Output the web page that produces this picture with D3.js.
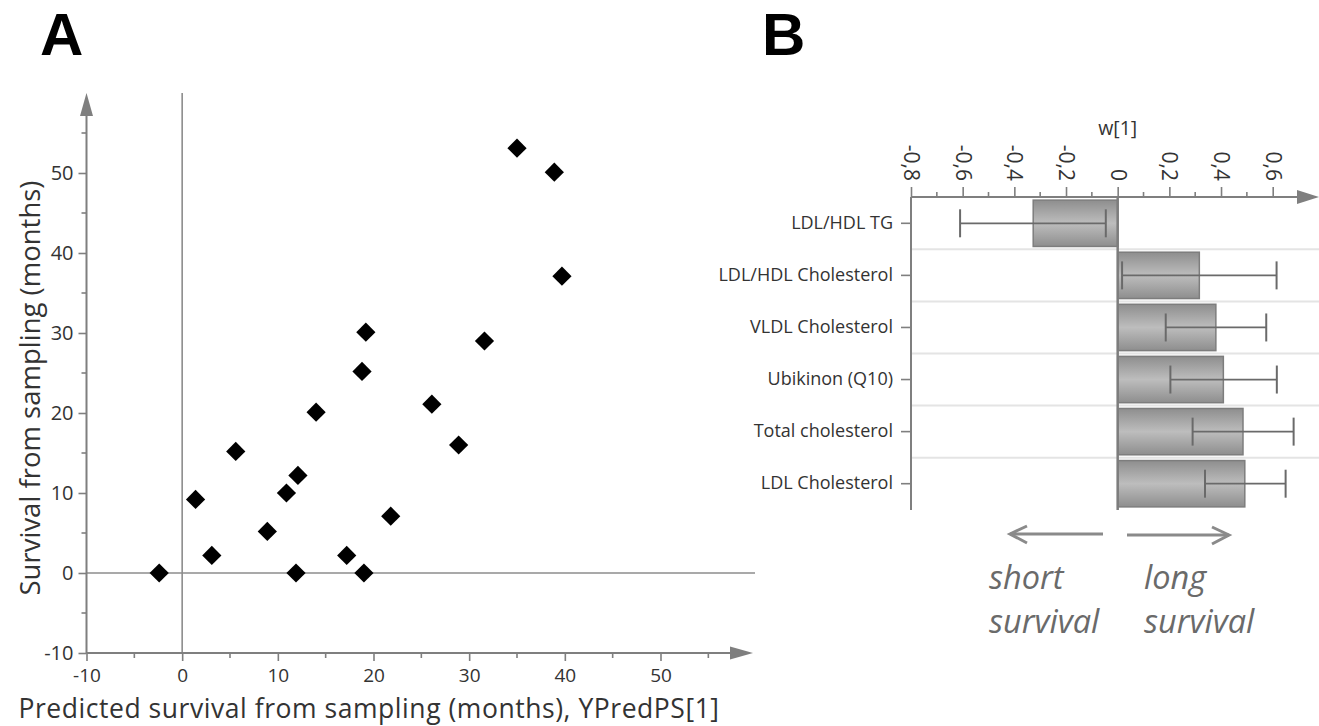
<!DOCTYPE html>
<html><head><meta charset="utf-8">
<script src="https://cdn.jsdelivr.net/npm/d3@7"></script>
<style>
html,body{margin:0;padding:0;background:#fff;}
svg{display:block;}
text{font-family:"Open Sans",sans-serif;}
</style></head>
<body>
<svg id="c" width="1319" height="726"></svg>
<script>
// ---------- Panel A data ----------
const predX = [-2.4, 1.4, 3.1, 5.6, 8.9, 10.9, 12.1, 11.9, 14.0, 17.2, 19.0, 18.8, 19.2, 21.8, 26.1, 28.9, 31.6, 35.0, 38.9, 39.7];
const survY = [0, 9.2, 2.2, 15.2, 5.2, 10.0, 12.2, 0, 20.1, 2.2, 0, 25.2, 30.1, 7.1, 21.1, 16.0, 29.0, 53.1, 50.1, 37.1];
const xTicksA = [-10, 0, 10, 20, 30, 40, 50];
const yTicksA = [-10, 0, 10, 20, 30, 40, 50];
const xMinorA = [-5, 5, 15, 25, 35, 45, 55];
const yMinorA = [-5, 5, 15, 25, 35, 45, 55];

// ---------- Panel B data ----------
const categories = ["LDL/HDL TG", "LDL/HDL Cholesterol", "VLDL Cholesterol", "Ubikinon (Q10)", "Total cholesterol", "LDL Cholesterol"];
const weights = [-0.327, 0.316, 0.380, 0.409, 0.485, 0.492];
const errLow = [-0.610, 0.017, 0.186, 0.204, 0.290, 0.338];
const errHigh = [-0.046, 0.615, 0.575, 0.616, 0.681, 0.650];
const wTicks = [-0.8, -0.6, -0.4, -0.2, 0, 0.2, 0.4, 0.6];
const wMinor = [-0.7, -0.5, -0.3, -0.1, 0.1, 0.3, 0.5];

const svg = d3.select("#c");
const axisCol = "#7f7f7f";
const txtCol = "#333";

const defs = svg.append("defs");
const g = defs.append("linearGradient").attr("id","barGrad").attr("x1",0).attr("y1",0).attr("x2",0).attr("y2",1);
g.append("stop").attr("offset","0%").attr("stop-color","#8e8e8e");
g.append("stop").attr("offset","50%").attr("stop-color","#bdbdbd");
g.append("stop").attr("offset","100%").attr("stop-color","#8e8e8e");

// ================= Panel A =================
const xA = d3.scaleLinear().domain([-10, 50]).range([86.5, 660.5]);
const yA = d3.scaleLinear().domain([-10, 50]).range([653, 173]);
const A = svg.append("g");

// zero lines
A.append("line").attr("x1", xA(0)).attr("x2", xA(0)).attr("y1", yA(-10)).attr("y2", 93)
  .attr("stroke", "#8c8c8c").attr("stroke-width", 1.6);
A.append("line").attr("x1", xA(-10)).attr("x2", 755).attr("y1", yA(0)).attr("y2", yA(0))
  .attr("stroke", "#8c8c8c").attr("stroke-width", 1.6);

// y axis
const yAxisA = d3.axisLeft(yA).tickValues(yTicksA).tickSize(8).tickFormat(d => String(d));
const gy = A.append("g").attr("transform", `translate(${xA(-10)},0)`).call(yAxisA);
gy.select(".domain").remove();
gy.selectAll(".tick line").attr("stroke", axisCol).attr("stroke-width", 1.6);
gy.selectAll(".tick text").attr("fill", txtCol).style("font-size", "20px").attr("x", -13);
gy.selectAll(".minor").data(yMinorA).enter().append("line")
  .attr("x1", -5).attr("x2", 0).attr("y1", d => yA(d)).attr("y2", d => yA(d))
  .attr("stroke", axisCol).attr("stroke-width", 1.6);
A.append("line").attr("x1", xA(-10)).attr("x2", xA(-10)).attr("y1", yA(-10)).attr("y2", 112)
  .attr("stroke", axisCol).attr("stroke-width", 2);
A.append("path").attr("d", `M${xA(-10)},93 L${xA(-10)-6.5},116 L${xA(-10)+6.5},116 Z`).attr("fill", axisCol);

// x axis
const xAxisA = d3.axisBottom(xA).tickValues(xTicksA).tickSize(8).tickFormat(d => String(d));
const gx = A.append("g").attr("transform", `translate(0,${yA(-10)})`).call(xAxisA);
gx.select(".domain").remove();
gx.selectAll(".tick line").attr("stroke", axisCol).attr("stroke-width", 1.6);
gx.selectAll(".tick text").attr("fill", txtCol).style("font-size", "19px").attr("y", 15.5);
gx.selectAll(".minor").data(xMinorA).enter().append("line")
  .attr("x1", d => xA(d)).attr("x2", d => xA(d)).attr("y1", 0).attr("y2", 5)
  .attr("stroke", axisCol).attr("stroke-width", 1.6);
A.append("line").attr("x1", xA(-10)).attr("x2", 735).attr("y1", yA(-10)).attr("y2", yA(-10))
  .attr("stroke", axisCol).attr("stroke-width", 2);
A.append("path").attr("d", `M753,${yA(-10)} L730,${yA(-10)-6.5} L730,${yA(-10)+6.5} Z`).attr("fill", axisCol);

// points
const diamond = d3.symbol(d3.symbolSquare, 185);
A.selectAll(".pt").data(predX.map((x, i) => [x, survY[i]])).enter().append("path")
  .attr("d", diamond)
  .attr("transform", d => `translate(${xA(d[0])},${yA(d[1])}) rotate(45)`)
  .attr("fill", "#000");

// titles
A.append("text").attr("x", 369).attr("y", 717.5).attr("text-anchor", "middle")
  .attr("fill", txtCol).style("font-size", "26.5px").style("letter-spacing", "0.55px")
  .text("Predicted survival from sampling (months), YPredPS[1]");
A.append("text").attr("transform", "translate(40,388) rotate(-90)").attr("text-anchor", "middle")
  .attr("fill", txtCol).style("font-size", "27.5px")
  .text("Survival from sampling (months)");
A.append("text").attr("x", 40).attr("y", 55).attr("fill", "#000")
  .style("font-size", "60px").style("font-weight", "bold").style("font-family", "'Liberation Sans',Arial,sans-serif").text("A");

// ================= Panel B =================
const xB = d3.scaleLinear().domain([-0.8, 0.6]).range([911, 1272.7]);
const yB = d3.scaleBand().domain(categories).range([197, 510]).paddingInner(0.11).paddingOuter(0.06);
const step = yB.step();
const B = svg.append("g");

// row separators
B.selectAll(".sep").data(categories.slice(1)).enter().append("line")
  .attr("x1", xB(-0.8)).attr("x2", 1319)
  .attr("y1", d => yB(d) - (step - yB.bandwidth()) / 2).attr("y2", d => yB(d) - (step - yB.bandwidth()) / 2)
  .attr("stroke", "#e4e4e4").attr("stroke-width", 2);

// bars
B.selectAll(".bar").data(categories).enter().append("rect")
  .attr("x", (d, i) => Math.min(xB(0), xB(weights[i])))
  .attr("width", (d, i) => Math.abs(xB(weights[i]) - xB(0)))
  .attr("y", d => yB(d)).attr("height", yB.bandwidth())
  .attr("fill", "url(#barGrad)").attr("stroke", "#7d7d7d").attr("stroke-width", 1.5);

// zero line
B.append("line").attr("x1", xB(0)).attr("x2", xB(0)).attr("y1", 197).attr("y2", 510)
  .attr("stroke", "#7d7d7d").attr("stroke-width", 2.5);

// error bars
const eb = B.selectAll(".eb").data(categories).enter().append("g")
  .attr("transform", d => `translate(0,${yB(d) + yB.bandwidth() / 2})`);
eb.append("line").attr("x1", (d, i) => xB(errLow[i])).attr("x2", (d, i) => xB(errHigh[i]))
  .attr("stroke", "#6a6a6a").attr("stroke-width", 1.8);
eb.append("line").attr("x1", (d, i) => xB(errLow[i])).attr("x2", (d, i) => xB(errLow[i]))
  .attr("y1", -14).attr("y2", 14).attr("stroke", "#6a6a6a").attr("stroke-width", 2);
eb.append("line").attr("x1", (d, i) => xB(errHigh[i])).attr("x2", (d, i) => xB(errHigh[i]))
  .attr("y1", -14).attr("y2", 14).attr("stroke", "#6a6a6a").attr("stroke-width", 2);

// left category axis
const yAxisB = d3.axisLeft(yB).tickSize(10).tickPadding(8);
const gyb = B.append("g").attr("transform", `translate(${xB(-0.8)},0)`).call(yAxisB);
gyb.select(".domain").remove();
gyb.selectAll(".tick line").attr("stroke", axisCol).attr("stroke-width", 1.6);
gyb.selectAll(".tick text").attr("fill", txtCol).style("font-size", "18px");
B.append("line").attr("x1", xB(-0.8)).attr("x2", xB(-0.8)).attr("y1", 197).attr("y2", 510)
  .attr("stroke", axisCol).attr("stroke-width", 2);

// top w axis
const xAxisB = d3.axisTop(xB).tickValues(wTicks).tickSize(10).tickPadding(16)
  .tickFormat(d => String(+d.toFixed(1)).replace(".", ","));
const gxb = B.append("g").attr("transform", "translate(0,197)").call(xAxisB);
gxb.select(".domain").remove();
gxb.selectAll(".tick line").attr("stroke", axisCol).attr("stroke-width", 1.6);
gxb.selectAll(".tick text").attr("fill", txtCol).style("font-size", "21px")
  .attr("transform", "rotate(90)").attr("text-anchor", "end").attr("dy", "0.35em").attr("y", 0).attr("x", -16);
gxb.selectAll(".minor").data(wMinor).enter().append("line")
  .attr("x1", d => xB(d)).attr("x2", d => xB(d)).attr("y1", -5).attr("y2", 0)
  .attr("stroke", axisCol).attr("stroke-width", 1.6);
B.append("line").attr("x1", xB(-0.8)).attr("x2", 1300).attr("y1", 197).attr("y2", 197)
  .attr("stroke", axisCol).attr("stroke-width", 2);
B.append("path").attr("d", "M1319,197 L1297,190 L1297,204 Z").attr("fill", axisCol);
B.append("text").attr("x", xB(0)).attr("y", 135).attr("text-anchor", "middle")
  .attr("fill", txtCol).style("font-size", "19.5px").text("w[1]");

// direction arrows
const arrowCol = "#8a8a8a";
B.append("line").attr("x1", 1103).attr("x2", 1010).attr("y1", 534).attr("y2", 534).attr("stroke", arrowCol).attr("stroke-width", 3);
B.append("path").attr("d", "M1027,526 L1010,534 L1027,543").attr("fill", "none").attr("stroke", arrowCol).attr("stroke-width", 3);
B.append("line").attr("x1", 1127).attr("x2", 1229).attr("y1", 535).attr("y2", 535).attr("stroke", arrowCol).attr("stroke-width", 3);
B.append("path").attr("d", "M1212,527 L1229,535 L1212,544").attr("fill", "none").attr("stroke", arrowCol).attr("stroke-width", 3);

const labCol = "#6a6a6a";
[["short", 989, 589], ["survival", 989, 633], ["long", 1144, 589], ["survival", 1144, 633]].forEach(t => {
  B.append("text").attr("x", t[1]).attr("y", t[2]).attr("fill", labCol)
    .style("font-size", "32.5px").style("font-style", "italic").text(t[0]);
});

B.append("text").attr("x", 762).attr("y", 55).attr("fill", "#000")
  .style("font-size", "60px").style("font-weight", "bold").style("font-family", "'Liberation Sans',Arial,sans-serif").text("B");
</script>
</body></html>
